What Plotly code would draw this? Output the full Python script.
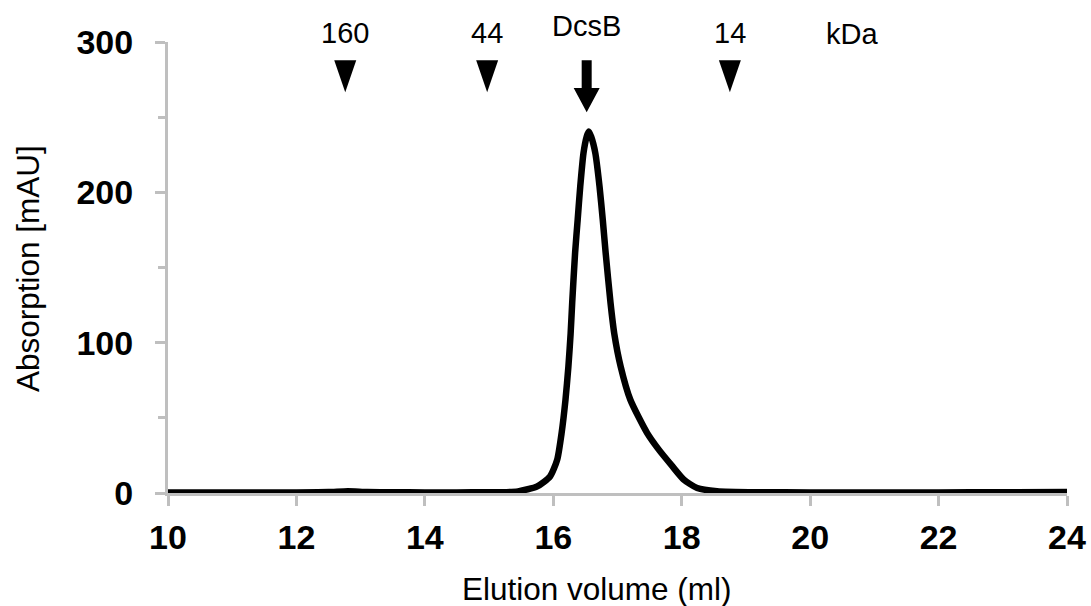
import plotly.graph_objects as go

# ---- data ----
elution_ml = [10, 11, 12, 12.5, 12.8, 13.1, 13.5, 14, 14.5, 15, 15.2, 15.45, 15.75, 15.95,
              16.06, 16.13, 16.19, 16.235, 16.27, 16.295, 16.34, 16.38, 16.42, 16.47, 16.52,
              16.552, 16.59, 16.655, 16.72, 16.77, 16.815, 16.89, 16.95, 17.05, 17.2, 17.46,
              17.64, 17.85, 18.03, 18.24, 18.55, 19.2, 20, 21, 22, 23, 24]
absorption_mau = [0.3, 0.3, 0.4, 0.6, 1.2, 0.7, 0.5, 0.4, 0.4, 0.5, 0.5, 1.1, 4.4, 11,
                  22, 40, 62, 84, 106, 127, 160, 182, 204, 226, 237,
                  240.5, 237, 226, 204, 182, 160, 127, 106, 84, 62, 40,
                  29, 18, 9, 3.3, 1.2, 0.5, 0.4, 0.4, 0.4, 0.5, 0.6]

marker_labels = ["160", "44", "14"]
marker_ml = [12.76, 14.97, 18.75]
protein_label = "DcsB"
protein_ml = 16.52
unit_label = "kDa"
unit_ml = 20.65

x_ticks = [10, 12, 14, 16, 18, 20, 22, 24]
y_ticks = [0, 100, 200, 300]

FONT = "Liberation Sans, Arial, sans-serif"
GRAY = "#bfbfbf"

W, H = 1091, 606
L, R, T, B = 168, 24, 42, 113
pw, ph = W - L - R, H - T - B


def px_x(abs_px):
    return (abs_px - L) / pw


def px_y(abs_py):
    return (H - B - abs_py) / ph


fig = go.Figure()
fig.add_trace(go.Scatter(
    x=elution_ml, y=absorption_mau, mode="lines",
    line=dict(color="black", width=6.5, shape="spline", smoothing=0.6),
    showlegend=False, hoverinfo="skip"))

annotations = []
shapes = []
TXT = dict(family=FONT, size=29, color="black")
for lab, xm in zip(marker_labels, marker_ml):
    annotations.append(dict(x=xm, y=px_y(33), xref="x", yref="paper", text=lab, showarrow=False,
                            font=TXT, xanchor="center", yanchor="middle"))
    shapes.append(dict(type="path", xref="x", yref="y", xsizemode="pixel", ysizemode="pixel",
                       xanchor=xm, yanchor=287.8, path="M-11,0 L11,0 L0,-32 Z",
                       fillcolor="black", line=dict(width=0)))

annotations.append(dict(x=protein_ml, y=px_y(26.5), xref="x", yref="paper", text=protein_label,
                        showarrow=False, font=TXT, xanchor="center", yanchor="middle"))
shapes.append(dict(type="path", xref="x", yref="y", xsizemode="pixel", ysizemode="pixel",
                   xanchor=protein_ml, yanchor=287.8,
                   path="M-5,0 L5,0 L5,-27.6 L13,-27.6 L0,-52 L-13,-27.6 L-5,-27.6 Z",
                   fillcolor="black", line=dict(width=0)))
annotations.append(dict(x=unit_ml, y=px_y(33.5), xref="x", yref="paper", text=unit_label,
                        showarrow=False, font=TXT, xanchor="center", yanchor="middle"))

# axis titles
annotations.append(dict(x=px_x(596.5), y=px_y(589), xref="paper", yref="paper",
                        text="Elution volume (ml)", showarrow=False,
                        font=dict(family=FONT, size=31.5, color="black"),
                        xanchor="center", yanchor="middle"))
annotations.append(dict(x=px_x(28), y=px_y(269), xref="paper", yref="paper",
                        text="Absorption [mAU]", showarrow=False, textangle=-90,
                        font=dict(family=FONT, size=31.5, color="black"),
                        xanchor="center", yanchor="middle"))

fig.update_layout(
    width=W, height=H, margin=dict(l=L, r=R, t=T, b=B),
    paper_bgcolor="white", plot_bgcolor="white",
    annotations=annotations, shapes=shapes,
    xaxis=dict(range=[10, 24], tickvals=x_ticks, ticktext=[str(v) for v in x_ticks],
               showgrid=False, zeroline=False, showline=True, linecolor=GRAY, linewidth=3,
               ticks="outside", ticklen=10, tickwidth=3, tickcolor=GRAY,
               tickfont=dict(family=FONT, size=34, color="black", weight="bold"),
               ticklabelstandoff=2, automargin=False),
    yaxis=dict(range=[0, 300], tickvals=y_ticks, ticktext=[str(v) for v in y_ticks],
               showgrid=False, zeroline=False, showline=True, linecolor=GRAY, linewidth=3,
               ticks="outside", ticklen=10, tickwidth=3, tickcolor=GRAY,
               tickfont=dict(family=FONT, size=34, color="black", weight="bold"),
               ticklabelstandoff=15, automargin=False,
               minor=dict(dtick=50, ticks="outside", ticklen=7, tickwidth=3, tickcolor=GRAY)),
)

fig.write_html("out.html", config={"displayModeBar": False},
               post_script="document.body.style.margin='0';document.body.style.overflow='hidden';")
